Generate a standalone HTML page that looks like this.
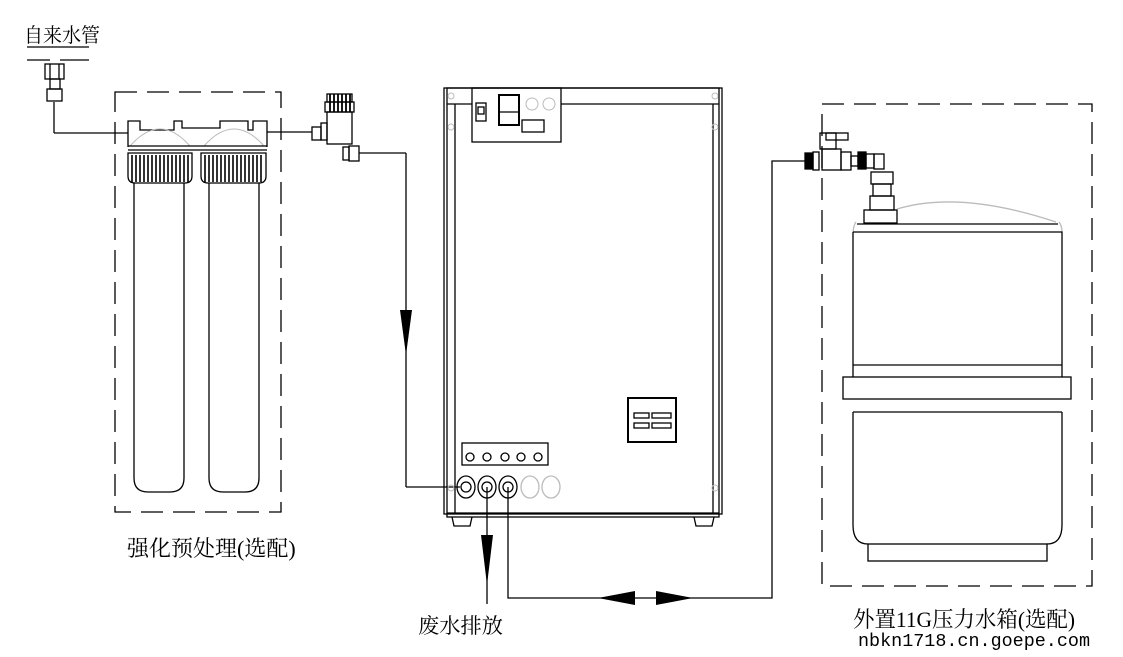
<!DOCTYPE html>
<html><head><meta charset="utf-8"><style>
html,body{margin:0;padding:0;background:#fff}
svg{display:block}
text{font-family:"Liberation Serif","Noto Serif CJK SC","Noto Sans CJK SC",serif;fill:#000}
</style></head><body>
<svg width="1123" height="657" viewBox="0 0 1123 657" xmlns="http://www.w3.org/2000/svg">
<g fill="none" stroke="#000" stroke-width="1.3">
<!-- tap water -->
<line x1="27" y1="47" x2="89" y2="47"/>
<line x1="27" y1="60" x2="50" y2="60"/><line x1="60" y1="60" x2="89" y2="60"/>
<rect x="45" y="64" width="19" height="15"/>
<line x1="50" y1="64" x2="50" y2="79"/><line x1="59" y1="64" x2="59" y2="79"/>
<rect x="50" y="79" width="10" height="10"/>
<rect x="47" y="89" width="15" height="12"/>
<line x1="54" y1="102" x2="54" y2="133"/><line x1="54" y1="133" x2="128" y2="133"/>
<!-- left dashed box -->
<rect x="115" y="92" width="166" height="420" stroke-dasharray="22,10"/>
<!-- filter heads -->
<path d="M128 147 V121 H140 V130 H174 V121 H182 V128 H220 V121 H248 V130 H253 V121 H267 V147"/>
<path d="M130 146 Q160 112 190 146 M204 146 Q234 112 264 146" stroke="#bbb" stroke-width="1"/>
<line x1="128" y1="146" x2="267" y2="146"/>
<line x1="128" y1="150" x2="267" y2="150"/>
<path d="M128 153 H192 V176 Q192 183 185 183 H135 Q128 183 128 176 Z"/>
<path d="M201 153 H266 V176 Q266 183 259 183 H208 Q201 183 201 176 Z"/>
<g stroke-width="1.6">
<path d="M132 155V182M136 155V182M140 155V182M144 155V182M148 155V182M152 155V182M156 155V182M160 155V182M164 155V182M168 155V182M172 155V182M176 155V182M180 155V182M184 155V182M188 155V182"/>
<path d="M205 155V182M209 155V182M213 155V182M217 155V182M221 155V182M225 155V182M229 155V182M233 155V182M237 155V182M241 155V182M245 155V182M249 155V182M253 155V182M257 155V182M261 155V182"/>
</g>
<path d="M134 183 V478 Q134 492 148 492 H170 Q184 492 184 478 V183" />
<path d="M209 183 V478 Q209 492 223 492 H245 Q259 492 259 478 V183" />
<!-- pipe to valve -->
<line x1="267" y1="132" x2="312" y2="132"/>
<rect x="312" y="127" width="9" height="13"/>
<rect x="321" y="123" width="6" height="17"/>
<rect x="327" y="112" width="25" height="32"/>
<rect x="325" y="102" width="29" height="10"/>
<rect x="327" y="94" width="25" height="8"/>
<path d="M330 94V112M334 94V112M338 94V112M342 94V112M346 94V112M350 94V112" stroke-width="1.8"/>
<rect x="343" y="147" width="6" height="13"/>
<rect x="349" y="146" width="10" height="15"/>
<line x1="359" y1="153" x2="406" y2="153"/>
<line x1="406" y1="153" x2="406" y2="487"/>
<line x1="406" y1="487" x2="460" y2="487"/>
<!-- machine -->
<rect x="444" y="88" width="278" height="426"/>
<rect x="447" y="88" width="272" height="429"/>
<line x1="455" y1="104" x2="455" y2="513"/>
<line x1="713" y1="104" x2="713" y2="513"/>
<line x1="561" y1="104" x2="719" y2="104"/>
<line x1="447" y1="104" x2="472" y2="104"/>
<line x1="447" y1="513" x2="719" y2="513"/>
<rect x="472" y="88" width="89" height="54"/>
<rect x="476" y="103" width="10" height="18"/>
<rect x="478" y="107" width="6" height="7"/>
<rect x="499" y="95" width="20" height="30" stroke-width="2"/>
<line x1="499" y1="112" x2="519" y2="112"/>
<rect x="522" y="120" width="22" height="12"/>
<g stroke="#bbb" stroke-width="1"><circle cx="532" cy="104" r="6"/><circle cx="549" cy="104" r="6"/><circle cx="451" cy="96" r="3"/><circle cx="715" cy="96" r="3"/><circle cx="451" cy="127" r="3"/><circle cx="715" cy="127" r="3"/><circle cx="451" cy="488" r="3"/><circle cx="715" cy="488" r="3"/></g>
<path d="M452 517 l2 9 h16 l2 -9 M694 517 l2 9 h16 l2 -9"/>
<!-- label plate -->
<rect x="628" y="398" width="48" height="44" stroke-width="2"/>
<rect x="634" y="413" width="15" height="5"/><rect x="652" y="413" width="19" height="5"/>
<rect x="634" y="423" width="15" height="5"/><rect x="652" y="423" width="19" height="5"/>
<!-- port panel -->
<rect x="462" y="443" width="86" height="22"/>
<circle cx="470" cy="457" r="4"/><circle cx="487" cy="457" r="4"/><circle cx="505" cy="457" r="4"/><circle cx="521" cy="457" r="4"/><circle cx="538" cy="457" r="4"/>
<ellipse cx="466" cy="487" rx="9" ry="11"/><circle cx="466" cy="487" r="5"/>
<ellipse cx="487" cy="487" rx="9" ry="11"/><circle cx="487" cy="487" r="5"/>
<ellipse cx="508" cy="487" rx="9" ry="11"/><circle cx="508" cy="487" r="5"/>
<g stroke="#bbb"><ellipse cx="530" cy="487" rx="9" ry="11"/><ellipse cx="551" cy="487" rx="9" ry="11"/></g>
<!-- drain -->
<line x1="487" y1="487" x2="487" y2="604"/>
<!-- out pipe -->
<path d="M508 487 V598 H772 V161 H805"/>
<!-- right dashed box -->
<rect x="822" y="104" width="270" height="482" stroke-dasharray="22,10"/>
<!-- tank valve -->
<rect x="805" y="153" width="8" height="16" fill="#000"/>
<rect x="813" y="152" width="6" height="18"/>
<rect x="822" y="149" width="19" height="21"/>
<rect x="820" y="133" width="16" height="16"/>
<rect x="826" y="133" width="22" height="7"/>
<rect x="841" y="152" width="10" height="18"/>
<rect x="851" y="156" width="7" height="10"/>
<rect x="858" y="152" width="8" height="17" fill="#000"/>
<rect x="866" y="154" width="8" height="14"/>
<rect x="874" y="154" width="10" height="15"/>
<rect x="871" y="172" width="22" height="12"/>
<rect x="873" y="184" width="18" height="12"/>
<rect x="870" y="196" width="24" height="14"/>
<rect x="864" y="210" width="33" height="13"/>
<!-- tank -->
<path d="M897 209 Q960 190 1056 222" stroke="#bbb"/>
<path d="M856 222 Q854 224 853 232" stroke="#bbb"/>
<path d="M1059 222 Q1062 226 1062 232" stroke="#bbb"/>
<line x1="857" y1="224" x2="1058" y2="224"/>
<path d="M853 232 H1062 V377 M853 232 V377"/>
<line x1="853" y1="365" x2="1062" y2="365"/>
<rect x="843" y="377" width="228" height="22"/>
<line x1="853" y1="412" x2="1062" y2="412"/>
<path d="M853 412 V525 Q853 544 868 544 M1062 412 V525 Q1062 544 1047 544"/>
<rect x="868" y="544" width="179" height="17"/>
</g>
<!-- arrows -->
<g fill="#000">
<polygon points="400,310 412,310 406,355"/>
<polygon points="481,535 493,535 487,585"/>
<polygon points="598,598 635,591 635,605"/>
<polygon points="693,598 656,591 656,605"/>
</g>
<!-- texts -->
<text x="24" y="42" font-size="20" textLength="76" lengthAdjust="spacingAndGlyphs">自来水管</text>
<text x="127" y="556" font-size="22">强化预处理(选配)</text>
<text x="418" y="633" font-size="21" textLength="85" lengthAdjust="spacingAndGlyphs">废水排放</text>
<text x="853" y="627" font-size="22" textLength="222" lengthAdjust="spacingAndGlyphs">外置11G压力水箱(选配)</text>
<text x="858" y="646" font-size="18" textLength="232" lengthAdjust="spacingAndGlyphs" style="font-family:'Liberation Mono',monospace">nbkn1718.cn.goepe.com</text>
</svg>
</body></html>
